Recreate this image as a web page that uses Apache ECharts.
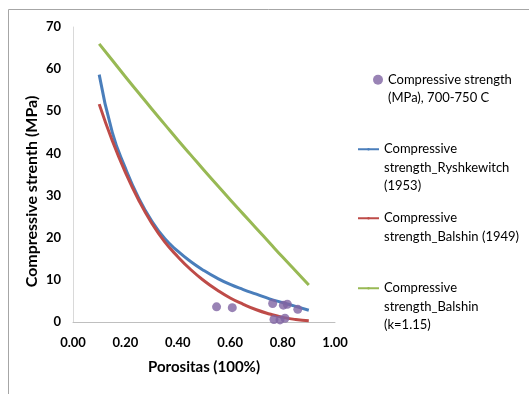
<!DOCTYPE html>
<html>
<head>
<meta charset="utf-8">
<script src="https://cdn.jsdelivr.net/npm/echarts@6/dist/echarts.min.js"></script>
<style>
	html, body { margin: 0; padding: 0; background: #fff; }
	#chart { width: 529px; height: 394px; }
</style>
</head>
<body>
<div id="chart"></div>
<script>
// porosity values used for the model curves
var porosity = [0.10, 0.15, 0.20, 0.25, 0.30, 0.35, 0.40, 0.45, 0.50, 0.55, 0.60, 0.65, 0.70, 0.75, 0.80, 0.85, 0.90];
var ryshkewitch = [58.7, 45, 36.5, 29.5, 24, 19.8, 16.8, 14.3, 12.2, 10.4, 8.9, 7.7, 6.6, 5.5, 4.6, 3.7, 2.8];
var balshin1949 = [51.7, 43, 35.5, 29, 23.5, 19, 15.5, 12.4, 9.8, 7.6, 5.7, 4.2, 2.9, 1.9, 1.1, 0.6, 0.3];
var balshinK = [66, 62.1, 58.2, 54.4, 50.6, 46.9, 43.2, 39.6, 36.0, 32.5, 29.0, 25.6, 22.2, 18.8, 15.4, 12.1, 8.8];

// measured samples
var measuredPorosity = [0.548, 0.608, 0.762, 0.803, 0.818, 0.858, 0.767, 0.790, 0.809];
var measuredStrength = [3.6, 3.4, 4.4, 4.0, 4.2, 3.0, 0.6, 0.5, 0.9];

var seriesNames = [
	'Compressive strength\n(MPa), 700-750 C',
	'Compressive\nstrength_Ryshkewitch\n(1953)',
	'Compressive\nstrength_Balshin (1949)',
	'Compressive\nstrength_Balshin\n(k=1.15)'
];

function pairs(xs, ys) {
	var out = [];
	for (var i = 0; i < xs.length; i++) {
		out.push([xs[i], ys[i]]);
	}
	return out;
}

var mychart = echarts.init(document.getElementById('chart'));
var fontName = 'Lato';
var lineH = 18.5;

// one legend per entry so the icon sits beside the first text line
function legendFor(idx, top) {
	var isDot = idx === 0;
	return {
		show: true,
		data: [seriesNames[idx]],
		left: isDot ? 368 : 352,
		top: top,
		itemWidth: isDot ? 10 : 21,
		itemHeight: isDot ? 10 : 3,
		selectedMode: false,
		formatter: function(name) {
			var n = name.split('\n').length;
			return new Array(n).join('\n') + name;
		},
		textStyle: {
			fontFamily: fontName,
			fontSize: 13,
			color: '#000',
			lineHeight: lineH
		}
	};
}

var option = {
	animation: false,
	graphic: [{
		type: 'polyline',
		shape: { points: [[8.5, 394], [8.5, 9.5], [529, 9.5]] },
		style: { stroke: '#a6a6a6', lineWidth: 1, fill: null }
	}],
	legend: [
		legendFor(0, 47),
		legendFor(1, 98),
		legendFor(2, 185.5),
		legendFor(3, 237)
	],
	grid: {
		left: 73,
		right: 194,
		top: 27,
		bottom: 72
	},
	xAxis: {
		type: 'value',
		min: 0,
		max: 1,
		interval: 0.2,
		name: 'Porositas (100%)',
		nameLocation: 'middle',
		nameGap: 38,
		nameTextStyle: {
			fontFamily: fontName,
			fontSize: 15,
			fontWeight: 'bold',
			color: '#000'
		},
		axisLine: { lineStyle: { color: '#bfbfbf', width: 1 } },
		axisTick: { show: false },
		splitLine: { show: false },
		axisLabel: {
			fontFamily: fontName,
			fontSize: 13,
			fontWeight: 'bold',
			color: '#000',
			margin: 14,
			formatter: function(v) { return v.toFixed(2); }
		}
	},
	yAxis: {
		type: 'value',
		min: 0,
		max: 70,
		interval: 10,
		name: 'Compressive strenth (MPa)',
		nameLocation: 'middle',
		nameGap: 33,
		nameTextStyle: {
			fontFamily: fontName,
			fontSize: 16,
			fontWeight: 'bold',
			color: '#000',
			padding: [0, 34, 0, 0]
		},
		axisLine: { show: true, lineStyle: { color: '#d9d9d9', width: 1 } },
		axisTick: { show: false },
		splitLine: { show: false },
		axisLabel: {
			fontFamily: fontName,
			fontSize: 13,
			fontWeight: 'bold',
			color: '#000',
			margin: 12
		}
	},
	series: [{
			name: seriesNames[0],
			type: 'scatter',
			symbol: 'circle',
			symbolSize: 9,
			itemStyle: { color: '#8064a2' },
			data: pairs(measuredPorosity, measuredStrength),
			z: 5
		},
		{
			name: seriesNames[1],
			type: 'line',
			smooth: true,
			symbol: 'none',
			lineStyle: { color: '#4a7ebb', width: 3 },
			itemStyle: { color: '#4a7ebb' },
			data: pairs(porosity, ryshkewitch)
		},
		{
			name: seriesNames[2],
			type: 'line',
			smooth: true,
			symbol: 'none',
			lineStyle: { color: '#be4b48', width: 3 },
			itemStyle: { color: '#be4b48' },
			data: pairs(porosity, balshin1949)
		},
		{
			name: seriesNames[3],
			type: 'line',
			smooth: true,
			symbol: 'none',
			lineStyle: { color: '#98b954', width: 3 },
			itemStyle: { color: '#98b954' },
			data: pairs(porosity, balshinK)
		}
	]
};

mychart.setOption(option);
</script>
</body>
</html>
